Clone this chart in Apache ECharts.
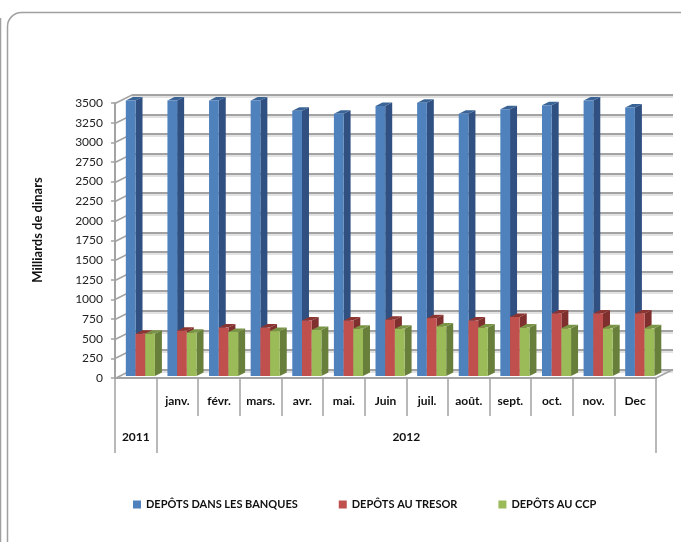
<!DOCTYPE html>
<html>
<head>
<meta charset="utf-8">
<style>
  html, body { margin: 0; padding: 0; background: #fff; }
  #chart { width: 681px; height: 542px; }
</style>
<script src="https://cdn.jsdelivr.net/npm/echarts@6/dist/echarts.min.js"></script>
</head>
<body>
<div id="chart"></div>
<script>
var months = ['', 'janv.', 'févr.', 'mars.', 'avr.', 'mai.', 'Juin', 'juil.', 'août.', 'sept.', 'oct.', 'nov.', 'Dec'];
var years = ['2011', '2012'];
var yearTicks = [0, 1, 13];
var yearCenters = [0.5, 7];
var yTicks = [0, 250, 500, 750, 1000, 1250, 1500, 1750, 2000, 2250, 2500, 2750, 3000, 3250, 3500];
var banques = [3500, 3500, 3500, 3500, 3370, 3330, 3430, 3470, 3330, 3390, 3440, 3500, 3410];
var tresor = [530, 570, 610, 610, 700, 700, 710, 730, 700, 745, 790, 790, 790];
var ccp = [530, 545, 555, 565, 580, 595, 595, 625, 610, 610, 600, 600, 600];

var font = 'Lato, "Open Sans", sans-serif';
var gridColor = '#a3a3a3';
var chart = echarts.init(document.getElementById('chart'));

// back wall and floor, the chart is flat so the depth is drawn by hand
function wallItem(params, api) {
    var sys = params.coordSys;
    var p = api.coord([0, api.value(1)]);
    var y = Math.round(p[1]) + 0.5;
    var line = { stroke: gridColor, lineWidth: 2 };
    var shadow = { stroke: '#d9d9d9', lineWidth: 1.5 };
    var right = sys.x + sys.width;
    return {
        type: 'group',
        children: [
            { type: 'line', shape: { x1: sys.x + 17, y1: y - 6.5, x2: right + 17, y2: y - 6.5 }, style: shadow },
            { type: 'line', shape: { x1: sys.x + 17, y1: y - 8.5, x2: right + 17, y2: y - 8.5 }, style: line },
            { type: 'line', shape: { x1: sys.x, y1: y, x2: sys.x + 17, y2: y - 8.5 }, style: { stroke: gridColor, lineWidth: 1.5 } }
        ]
    };
}

function floorItem(params, api) {
    var sys = params.coordSys;
    var y = sys.y + sys.height;
    return {
        type: 'line',
        shape: { x1: sys.x + sys.width, y1: y, x2: sys.x + sys.width + 17, y2: y - 8.5 },
        style: { stroke: gridColor, lineWidth: 1.5 }
    };
}

function barRenderer(offset, side, top) {
    return function (params, api) {
        var band = api.size([1, 0])[0];
        var head = api.coord([api.value(0), api.value(1)]);
        var foot = api.coord([api.value(0), 0]);
        var w = band * 0.233;
        var x = head[0] + band * offset;
        var y = head[1] - 2.5;
        var yb = foot[1] - 2;
        var dx = 7, dy = 3.5;
        return {
            type: 'group',
            children: [
                { type: 'polygon', shape: { points: [[x + w, y], [x + w + dx, y - dy], [x + w + dx, yb - dy], [x + w, yb]] }, style: { fill: side } },
                { type: 'polygon', shape: { points: [[x, y], [x + dx, y - dy], [x + w + dx, y - dy], [x + w, y]] }, style: { fill: top } },
                { type: 'rect', shape: { x: x, y: y, width: w, height: yb - y }, style: { fill: api.visual('color') } }
            ]
        };
    };
}

function toPairs(values) {
    return values.map(function (v, i) { return [i, v]; });
}

var option = {
    animation: false,
    backgroundColor: '#fff',
    textStyle: { fontFamily: font },
    grid: { left: 115, right: 25, top: 103, height: 275 },
    legend: {
        left: 133,
        top: 499,
        padding: 0,
        itemWidth: 8,
        itemHeight: 8,
        itemGap: 41,
        icon: 'rect',
        textStyle: { fontFamily: font, fontSize: 11, fontWeight: 'bold', color: '#111' },
        data: ['DEPÔTS DANS LES BANQUES', 'DEPÔTS AU TRESOR', 'DEPÔTS AU CCP']
    },
    xAxis: [{
        type: 'category',
        data: months,
        boundaryGap: true,
        axisLine: { lineStyle: { color: gridColor, width: 2 } },
        axisTick: { show: true, length: 38, interval: 0, lineStyle: { color: gridColor, width: 1.5 } },
        axisLabel: { interval: 0, margin: 17, fontFamily: font, fontSize: 12, fontWeight: 'bold', color: '#111' },
        splitLine: { show: false }
    }, {
        type: 'value',
        position: 'bottom',
        offset: 38,
        min: 0,
        max: 13,
        axisLine: { show: false },
        axisTick: { show: true, length: 37, customValues: yearTicks, lineStyle: { color: gridColor, width: 1.5 } },
        axisLabel: {
            margin: 15,
            customValues: yearCenters,
            fontFamily: font,
            fontSize: 12,
            fontWeight: 'bold',
            color: '#111',
            formatter: function (v) { return years[yearCenters.indexOf(v)]; }
        },
        splitLine: { show: false }
    }],
    yAxis: {
        type: 'value',
        min: 0,
        max: 3500,
        interval: 250,
        axisLine: { show: true, lineStyle: { color: gridColor, width: 2 } },
        axisTick: { show: true, length: 4, lineStyle: { color: gridColor, width: 1.5 } },
        axisLabel: {
            margin: 12,
            fontFamily: font,
            fontSize: 12,
            color: '#222',
            formatter: function (v) { return String(v); }
        },
        splitLine: { show: false }
    },
    graphic: [
        { type: 'rect', silent: true, shape: { x: 7.5, y: 12.5, width: 730, height: 590, r: 14 }, style: { fill: 'none', stroke: '#a0a0a0', lineWidth: 1.5 } },
        { type: 'line', silent: true, shape: { x1: 0.5, y1: 18, x2: 0.5, y2: 542 }, style: { stroke: '#a0a0a0', lineWidth: 1.5 } },
        {
            type: 'text',
            silent: true,
            x: 38,
            y: 230,
            rotation: Math.PI / 2,
            style: { text: 'Milliards de dinars', font: 'bold 13px ' + font, fill: '#111', align: 'center', verticalAlign: 'middle' }
        }
    ],
    series: [{
        type: 'custom',
        name: 'wall',
        renderItem: wallItem,
        data: yTicks.map(function (t) { return [0, t]; }),
        silent: true
    }, {
        type: 'custom',
        name: 'floor',
        renderItem: floorItem,
        data: [[0, 0]],
        silent: true
    }, {
        type: 'custom',
        name: 'DEPÔTS DANS LES BANQUES',
        itemStyle: { color: '#4F81BD' },
        renderItem: barRenderer(-0.24, '#2F5080', '#3A6496'),
        data: toPairs(banques)
    }, {
        type: 'custom',
        name: 'DEPÔTS AU TRESOR',
        itemStyle: { color: '#C0504D' },
        renderItem: barRenderer(-0.007, '#7F2F2D', '#8C3431'),
        data: toPairs(tresor)
    }, {
        type: 'custom',
        name: 'DEPÔTS AU CCP',
        itemStyle: { color: '#9BBB59' },
        renderItem: barRenderer(0.226, '#687F3B', '#7A9446'),
        data: toPairs(ccp)
    }]
};
chart.setOption(option);
</script>
</body>
</html>
